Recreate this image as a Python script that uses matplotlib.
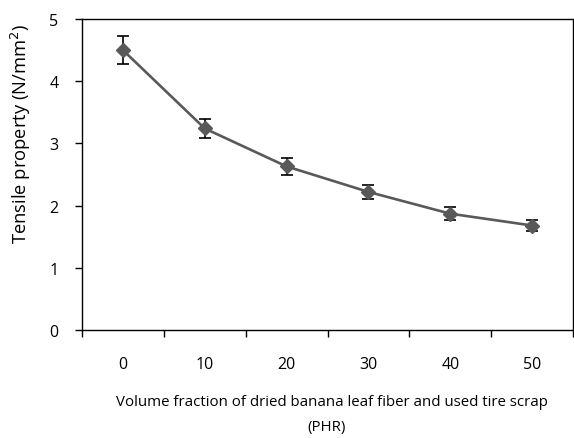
import matplotlib.pyplot as plt
import numpy as np

plt.rcParams["font.family"] = ["Open Sans", "DejaVu Sans"]

# data
phr_labels = ["0", "10", "20", "30", "40", "50"]
tensile = [4.50, 3.24, 2.63, 2.22, 1.87, 1.68]
tensile_err = [0.22, 0.16, 0.13, 0.11, 0.10, 0.09]
y_ticks = [0, 1, 2, 3, 4, 5]

W, H = 574, 439
fig = plt.figure(figsize=(W / 100, H / 100), dpi=100)
ax = fig.add_axes([82 / W, 108 / H, 491 / W, 311 / H])

x = np.arange(len(phr_labels))
ax.errorbar(x, tensile, yerr=tensile_err, fmt="none", ecolor="black",
            elinewidth=1.2, capsize=4.5, capthick=1.2, zorder=2)
ax.plot(x, tensile, color="#595959", lw=1.9, marker="D", ms=7.5,
        mfc="#595959", mec="#595959", zorder=3)

ax.set_xlim(-0.5, len(phr_labels) - 0.5)
ax.set_ylim(0, 5)
ax.set_yticks(y_ticks)
ax.tick_params(axis="y", direction="out", length=5, width=1, labelsize=11.5, pad=12)

# category axis: ticks between categories, labels centred below
ax.set_xticks(np.arange(-0.5, len(phr_labels), 1.0))
ax.set_xticklabels([])
ax.set_xticks(x, minor=True)
ax.set_xticklabels(phr_labels, minor=True)
ax.tick_params(axis="x", which="major", direction="out", length=5, width=1)
ax.tick_params(axis="x", which="minor", length=0, labelsize=11.5, pad=19)

for sp in ax.spines.values():
    sp.set_linewidth(1)
    sp.set_color("black")

fig.text(21 / W, 1 - 134 / H, "Tensile property (N/mm$^2$)", rotation=90,
         ha="center", va="center", fontsize=13.2)
fig.text(332 / W, 1 - 403 / H,
         "Volume fraction of dried banana leaf fiber and used tire scrap",
         ha="center", va="center", fontsize=10.8)
fig.text(327 / W, 1 - 428 / H, "(PHR)", ha="center", va="center", fontsize=10.8)

fig.savefig("out.png", dpi=100)
